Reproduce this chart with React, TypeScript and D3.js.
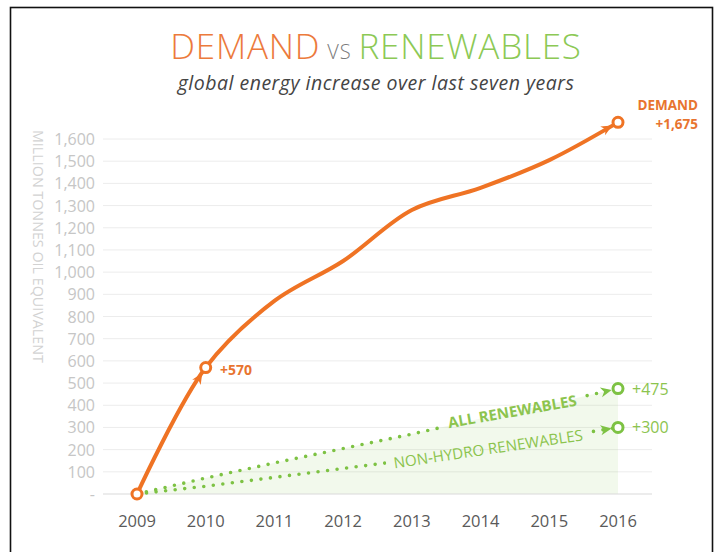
import React from "react";
import * as d3 from "d3";

const years = ["2009", "2010", "2011", "2012", "2013", "2014", "2015", "2016"];
const demand = [0, 570, 870, 1050, 1280, 1380, 1505, 1675];
const allRenewables = [0, 72, 140, 205, 270, 340, 405, 475];
const nonHydro = [0, 35, 75, 115, 155, 200, 250, 300];
const yTicks = [0, 100, 200, 300, 400, 500, 600, 700, 800, 900, 1000, 1100, 1200, 1300, 1400, 1500, 1600];

const ORANGE = "#ef7324";
const ORANGE_TXT = "#e8742f";
const GREEN = "#7dc243";
const GREEN_TXT = "#8cc44e";
const FONT = "'Open Sans', 'Noto Sans', sans-serif";

const W = 718;
const H = 552;

export default function App() {
  const x = d3.scalePoint<string>().domain(years).range([137, 618]);
  const y = d3.scaleLinear().domain([0, 1600]).range([494, 139]);
  const step = x.step();

  const pts = (vals: number[]) => vals.map((v, i) => [x(years[i]) as number, y(v)] as [number, number]);
  const demandPts = pts(demand);
  const allPts = pts(allRenewables);
  const nhPts = pts(nonHydro);

  const smooth = d3.line().curve(d3.curveCatmullRom.alpha(0.5));
  const straight = d3.line();
  const area = d3
    .area<[number, number]>()
    .x((d) => d[0])
    .y0(y(0))
    .y1((d) => d[1]);

  const pointAt = (vals: number[], t: number): [number, number] => {
    const i = Math.min(Math.floor(t), vals.length - 2);
    const f = t - i;
    const v = vals[i] + (vals[i + 1] - vals[i]) * f;
    return [(x(years[0]) as number) + t * step, y(v)];
  };

  const ang = (a: [number, number], b: [number, number]) => Math.atan2(b[1] - a[1], b[0] - a[0]);

  const arrow = (c: [number, number], angle: number, color: string, key: string) => {
    const tipD = 6.5;
    const len = 11;
    const hw = 5;
    const tx = c[0] - Math.cos(angle) * tipD;
    const ty = c[1] - Math.sin(angle) * tipD;
    const bx = tx - Math.cos(angle) * len;
    const by = ty - Math.sin(angle) * len;
    const nx = -Math.sin(angle) * hw;
    const ny = Math.cos(angle) * hw;
    const mx = tx - Math.cos(angle) * len * 0.7;
    const my = ty - Math.sin(angle) * len * 0.7;
    return (
      <path
        key={key}
        d={`M${tx},${ty} L${bx + nx},${by + ny} L${mx},${my} L${bx - nx},${by - ny} Z`}
        fill={color}
      />
    );
  };

  const marker = (c: [number, number], color: string, key: string) => (
    <circle key={key} cx={c[0]} cy={c[1]} r={5} fill="#fff" stroke={color} strokeWidth={3} />
  );

  const a2010 = (ang(demandPts[0], demandPts[1]) + ang(demandPts[0], demandPts[2])) / 2;
  const a2016 = ang(demandPts[6], demandPts[7]);
  const aAll = ang(allPts[6], allPts[7]);
  const aNh = ang(nhPts[6], nhPts[7]);

  const allLbl = pointAt(allRenewables, 5.46);
  const nhLbl = pointAt(nonHydro, 5.11);

  const lineText = (fill: string, stroke?: string, sw?: number) => [
    <text
      key="all"
      x={allLbl[0]}
      y={allLbl[1] - 1}
      transform={`rotate(-10, ${allLbl[0]}, ${allLbl[1] - 1})`}
      textAnchor="middle"
      dominantBaseline="central"
      fontFamily={FONT}
      fontWeight={700}
      fontSize={15}
      fill={fill}
      stroke={stroke}
      strokeWidth={sw}
    >
      ALL RENEWABLES
    </text>,
    <text
      key="nh"
      x={nhLbl[0]}
      y={nhLbl[1]}
      transform={`rotate(-8.5, ${nhLbl[0]}, ${nhLbl[1]})`}
      textAnchor="middle"
      dominantBaseline="central"
      fontFamily={FONT}
      fontWeight={400}
      fontSize={15.2}
      fill={fill}
      stroke={stroke}
      strokeWidth={sw}
    >
      NON-HYDRO RENEWABLES
    </text>,
  ];

  return (
    <svg
      width={W}
      height={H}
      style={{ position: "absolute", left: 0, top: 0, background: "#fff" }}
    >
      <defs>
        <mask id="txtMask" maskUnits="userSpaceOnUse" x={0} y={0} width={W} height={H}>
          <rect x={0} y={0} width={W} height={H} fill="#fff" />
          {lineText("#000", "#000", 18)}
        </mask>
      </defs>
      <rect x={0} y={0} width={W} height={H} fill="#fff" />
      <rect x={10.5} y={7.5} width={702} height={570} fill="none" stroke="#111" strokeWidth={1.6} />

      {/* Title */}
      <text
        x={376}
        y={59}
        textAnchor="middle"
        fontFamily={FONT}
        fontWeight={300}
        fontSize={35}
        letterSpacing={0.8}
      >
        <tspan fill="#ec7a3c">DEMAND</tspan>
        <tspan fill="#7a7a7a" fontSize={20} dx={7}>
          VS
        </tspan>
        <tspan fill="#8cc955" dx={7}>
          RENEWABLES
        </tspan>
      </text>
      <text
        x={376}
        y={90}
        textAnchor="middle"
        fontFamily={FONT}
        fontStyle="italic"
        fontSize={19.5}
        letterSpacing={0.5}
        fill="#444"
      >
        global energy increase over last seven years
      </text>

      {/* Y axis title */}
      <text
        transform={`translate(33, 130) rotate(90)`}
        fontFamily={FONT}
        fontSize={14.3}
        fill="#d2d2d2"
      >
        MILLION TONNES OIL EQUIVALENT
      </text>

      {/* Grid + y labels */}
      {yTicks.map((t) => (
        <g key={t}>
          {t > 0 && <line x1={103} x2={652} y1={y(t)} y2={y(t)} stroke="#ececec" strokeWidth={1} />}
          <text
            x={95}
            y={y(t)}
            textAnchor="end"
            dominantBaseline="central"
            fontFamily={FONT}
            fontSize={16}
            fill="#c6c6c6"
          >
            {t === 0 ? "-" : d3.format(",")(t)}
          </text>
        </g>
      ))}

      {/* Renewables fill */}
      <path d={area(allPts) || ""} fill="#9ed46a" fillOpacity={0.13} />
      <line x1={103} x2={652} y1={y(0)} y2={y(0)} stroke="#d9d9d9" strokeWidth={1.2} />

      {/* x labels */}
      {years.map((yr) => (
        <text
          key={yr}
          x={x(yr)}
          y={527}
          textAnchor="middle"
          fontFamily={FONT}
          fontSize={16.5}
          fill="#5a5a5a"
        >
          {yr}
        </text>
      ))}

      {/* Dotted renewables lines */}
      <g mask="url(#txtMask)">
        <path
          d={straight(allPts) || ""}
          fill="none"
          stroke={GREEN}
          strokeWidth={3.6}
          strokeLinecap="round"
          strokeDasharray="0 9.6"
        />
        <path
          d={straight(nhPts) || ""}
          fill="none"
          stroke={GREEN}
          strokeWidth={3.6}
          strokeLinecap="round"
          strokeDasharray="0 9.6"
        />
      </g>
      {lineText(GREEN_TXT)}

      {arrow(allPts[7], aAll, GREEN, "aa")}
      {arrow(nhPts[7], aNh, GREEN, "an")}
      {marker(allPts[7], GREEN, "ma")}
      {marker(nhPts[7], GREEN, "mn")}

      {/* Demand line */}
      <path d={smooth(demandPts) || ""} fill="none" stroke={ORANGE} strokeWidth={4} strokeLinecap="round" />
      {arrow(demandPts[1], a2010, ORANGE, "d1")}
      {arrow(demandPts[7], a2016, ORANGE, "d7")}
      {marker(demandPts[0], ORANGE, "m0")}
      {marker(demandPts[1], ORANGE, "m1")}
      {marker(demandPts[7], ORANGE, "m7")}

      {/* Labels */}
      <text x={220} y={375} fontFamily={FONT} fontWeight={700} fontSize={14} fill={ORANGE_TXT}>
        +{d3.format(",")(demand[1])}
      </text>
      <text x={698} y={110} textAnchor="end" fontFamily={FONT} fontWeight={700} fontSize={13.5} fill={ORANGE_TXT}>
        DEMAND
      </text>
      <text x={698} y={129} textAnchor="end" fontFamily={FONT} fontWeight={700} fontSize={13.5} fill={ORANGE_TXT}>
        +{d3.format(",")(demand[7])}
      </text>
      <text x={632} y={allPts[7][1]} dominantBaseline="central" fontFamily={FONT} fontSize={16} fill={GREEN_TXT}>
        +{allRenewables[7]}
      </text>
      <text x={632} y={nhPts[7][1]} dominantBaseline="central" fontFamily={FONT} fontSize={16} fill={GREEN_TXT}>
        +{nonHydro[7]}
      </text>
    </svg>
  );
}
